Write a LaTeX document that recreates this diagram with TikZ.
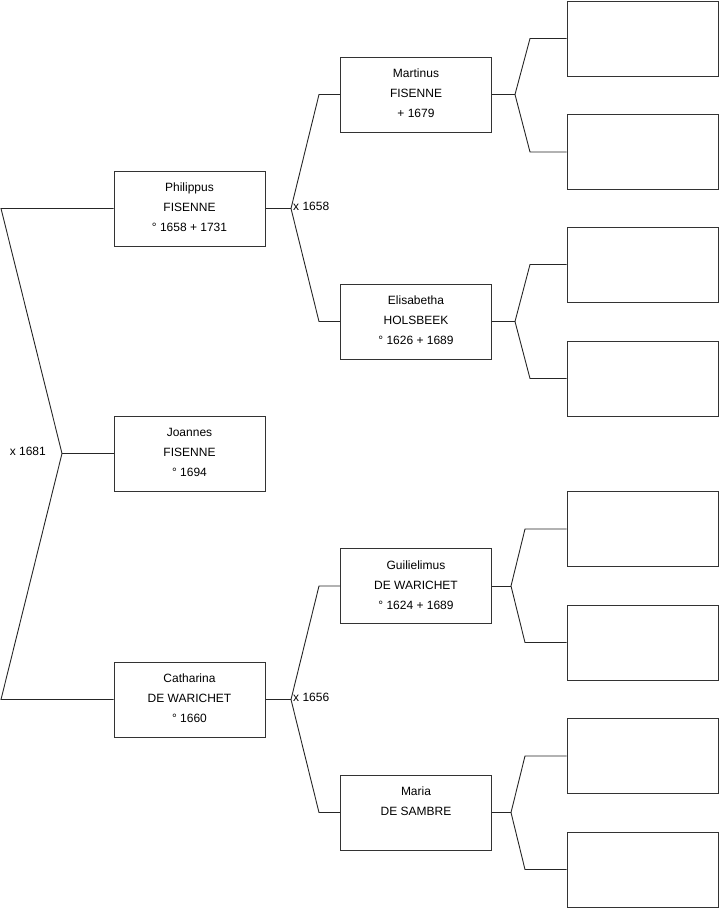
\documentclass[tikz,border=0pt]{standalone}
\usepackage{fontspec}
\setmainfont{Liberation Sans}
\begin{document}
\begin{tikzpicture}[x=1pt,y=-1pt,
  person/.style={draw=black!80,line width=1pt,fill=white,minimum width=151pt,minimum height=75pt,inner sep=0pt,align=center,text depth=2pt,font=\fontsize{12}{20}\selectfont},
  link/.style={draw=black!85,line width=0.9pt},
  lbl/.style={inner sep=0pt,font=\fontsize{12}{14}\selectfont}]
\useasboundingbox (0,0) rectangle (719,908);
% generation 1
\node[person] (phil) at (189.5,208.5) {Philippus\\FISENNE\\° 1658 + 1731};
\node[person] (joan) at (189.5,453.5) {Joannes\\FISENNE\\° 1694};
\node[person] (cath) at (189.5,699.5) {Catharina\\DE WARICHET\\° 1660};
% generation 2
\node[person] (mart) at (416,94.5) {Martinus\\FISENNE\\+ 1679};
\node[person] (elis) at (416,321.5) {Elisabetha\\HOLSBEEK\\° 1626 + 1689};
\node[person] (guil) at (416,586) {Guilielimus\\DE WARICHET\\° 1624 + 1689};
\node[person] (mari) at (416,812.5) {Maria\\DE SAMBRE\\\mbox{}};
% generation 3
\node[person] (g1) at (642.5,38.5) {};
\node[person] (g2) at (642.5,152) {};
\node[person] (g3) at (642.5,264.5) {};
\node[person] (g4) at (642.5,378.5) {};
\node[person] (g5) at (642.5,529) {};
\node[person] (g6) at (642.5,642.5) {};
\node[person] (g7) at (642.5,756) {};
\node[person] (g8) at (642.5,869.5) {};
% left connector
\coordinate (a0) at (1,208.5);
\coordinate (m0) at (62,453.5);
\coordinate (b0) at (1,699.5);
\draw[link] (phil.west) -- (a0) -- (m0) -- (b0) -- (cath.west);
\draw[link] (m0) -- (joan.west);
\node[lbl,anchor=east] (l0) at ([xshift=-16pt,yshift=2pt]m0) {x 1681};
% Philippus parents
\coordinate (m1) at (291,208.5);
\coordinate (e1a) at (319,94.5);
\coordinate (e1b) at (319,321.5);
\draw[link] (phil.east) -- (m1);
\draw[link] (mart.west) -- (e1a) -- (m1) -- (e1b) -- (elis.west);
\node[lbl,anchor=west] (l1) at ([xshift=2pt,yshift=2pt]m1) {x 1658};
% Catharina parents
\coordinate (m2) at (291,699.5);
\coordinate (e2a) at (319,586);
\coordinate (e2b) at (319,812.5);
\draw[link] (cath.east) -- (m2);
\draw[link] (guil.west) -- (e2a) -- (m2) -- (e2b) -- (mari.west);
\node[lbl,anchor=west] (l2) at ([xshift=2pt,yshift=2pt]m2) {x 1656};
% generation 2 to 3
\coordinate (m3) at (515,94.5);
\coordinate (e3a) at (530,38.5);
\coordinate (e3b) at (530,152);
\draw[link] (mart.east) -- (m3);
\draw[link] (g1.west) -- (e3a) -- (m3) -- (e3b) -- (g2.west);
\coordinate (m4) at (515,321.5);
\coordinate (e4a) at (530,264.5);
\coordinate (e4b) at (530,378.5);
\draw[link] (elis.east) -- (m4);
\draw[link] (g3.west) -- (e4a) -- (m4) -- (e4b) -- (g4.west);
\coordinate (m5) at (511,586);
\coordinate (e5a) at (525,529);
\coordinate (e5b) at (525,642.5);
\draw[link] (guil.east) -- (m5);
\draw[link] (g5.west) -- (e5a) -- (m5) -- (e5b) -- (g6.west);
\coordinate (m6) at (511,812.5);
\coordinate (e6a) at (525,756);
\coordinate (e6b) at (525,869.5);
\draw[link] (mari.east) -- (m6);
\draw[link] (g7.west) -- (e6a) -- (m6) -- (e6b) -- (g8.west);
\end{tikzpicture}
\end{document}
